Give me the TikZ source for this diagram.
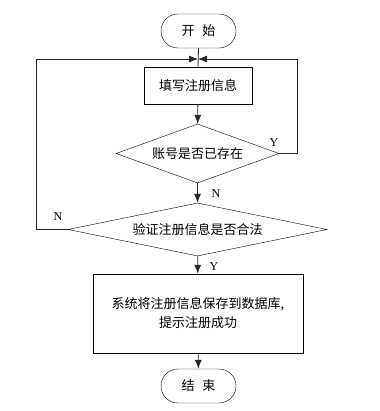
\documentclass[tikz,border=0pt]{standalone}
\usepackage{fontspec}
\setmainfont{Liberation Serif}
\newfontfamily\cjk{Noto Sans CJK SC}
\usetikzlibrary{shapes.geometric,arrows.meta}
\begin{document}
\begin{tikzpicture}[x=1pt,y=-1pt,
  every node/.style={font=\cjk\fontsize{13}{19}\selectfont},
  term/.style={draw,rectangle,rounded corners=17pt,minimum width=75pt,minimum height=34pt,inner sep=0pt},
  proc/.style={draw,rectangle,inner sep=0pt},
  dec/.style={draw,diamond,inner sep=0pt},
  lab/.style={font=\fontsize{12}{12}\selectfont,inner sep=0pt},
  line/.style={line width=0.8pt,draw=black!85},
  arr/.style={line,-{Latex[length=9pt,width=7pt]}}]
\useasboundingbox (0,0) rectangle (379,411);
\node[term] (start) at (198.5,31) {开\hspace{0.6em}始};
\coordinate (j) at (198,59);
\node[proc,minimum width=108pt,minimum height=37pt] (box1) at (198,85.5) {填写注册信息};
\node[dec,shape aspect=2.76,minimum width=163pt,minimum height=59pt] (d1) at (197.5,153.5) {账号是否已存在};
\node[dec,shape aspect=4.89,minimum width=259pt,minimum height=53pt] (d2) at (197.5,229.5) {验证注册信息是否合法};
\node[proc,minimum width=210pt,minimum height=79pt,align=center] (box2) at (198,313.5) {系统将注册信息保存到数据库,\\提示注册成功};
\node[term] (end) at (198.5,386) {结\hspace{0.6em}束};
\coordinate (rc) at (297,59);
\coordinate (lc) at (36,59);
\node[lab] (y1) at (274,143) {Y};
\node[lab] (n1) at (216,194) {N};
\node[lab] (n2) at (58,217) {N};
\node[lab] (y2) at (214,267) {Y};
\draw[line] (start.south) -- (box1.north);
\draw[arr] (box1) -- (d1);
\draw[arr] (d1) -- (d2);
\draw[arr] (d2) -- (box2);
\draw[arr] (box2) -- (end);
\draw[arr] (d1.east) -| (rc) -- (j);
\draw[arr] (d2.west) -| (lc) -- (j);
\end{tikzpicture}
\end{document}
